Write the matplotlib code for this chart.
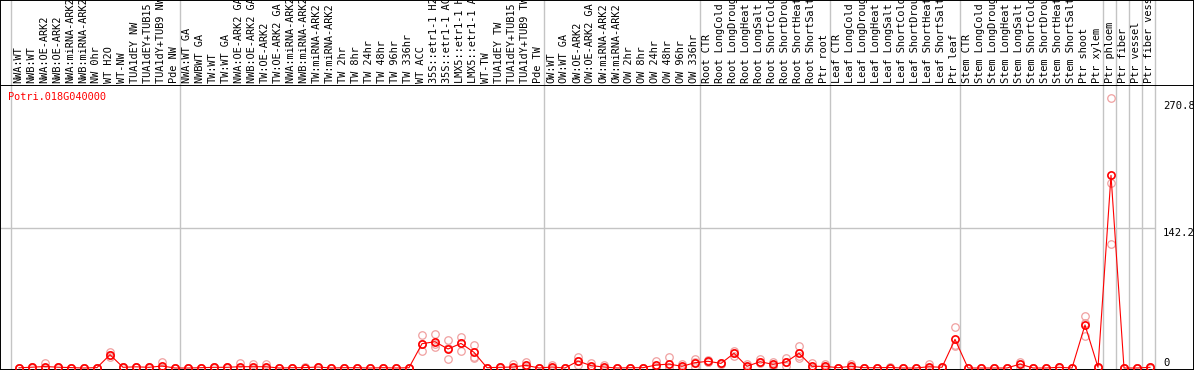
"""Expression profile of Potri.018G040000 across poplar sample sets."""

import matplotlib

matplotlib.use("Agg")
import matplotlib.pyplot as plt
from matplotlib.transforms import blended_transform_factory

GENE = "Potri.018G040000"

SAMPLES = [
    # normal / tension wood set 1
    "NWA:WT", "NWB:WT", "NWA:OE-ARK2", "NWB:OE-ARK2", "NWA:miRNA-ARK2",
    "NWB:miRNA-ARK2", "NW 0hr", "WT H2O", "WT-NW", "TUA1dEY NW",
    "TUA1dEY+TUB15 NW", "TUA1dY+TUB9 NW", "Pde NW",
    # tension wood
    "NWA:WT GA", "NWBWT GA", "TW:WT", "TW:WT GA", "NWA:OE-ARK2 GA",
    "NWB:OE-ARK2 GA", "TW:OE-ARK2", "TW:OE-ARK2 GA", "NWA:miRNA-ARK2 GA",
    "NWB:miRNA-ARK2 GA", "TW:miRNA-ARK2", "TW:miRNA-ARK2", "TW 2hr", "TW 8hr",
    "TW 24hr", "TW 48hr", "TW 96hr", "TW 336hr", "WT ACC", "35S::etr1-1 H2O",
    "35S::etr1-1 ACC", "LMX5::etr1-1 H2O", "LMX5::etr1-1 ACC", "WT-TW",
    "TUA1dEY TW", "TUA1dEY+TUB15 TW", "TUA1dY+TUB9 TW", "Pde TW",
    # opposite wood
    "OW:WT", "OW:WT GA", "OW:OE-ARK2", "OW:OE-ARK2 GA", "OW:miRNA-ARK2",
    "OW:miRNA-ARK2", "OW 2hr", "OW 8hr", "OW 24hr", "OW 48hr", "OW 96hr",
    "OW 336hr",
    # root
    "Root CTR", "Root LongCold", "Root LongDrought", "Root LongHeat",
    "Root LongSalt", "Root ShortCold", "Root ShortDrought", "Root ShortHeat",
    "Root ShortSalt", "Ptr root",
    # leaf
    "Leaf CTR", "Leaf LongCold", "Leaf LongDrought", "Leaf LongHeat",
    "Leaf LongSalt", "Leaf ShortCold", "Leaf ShortDrought", "Leaf ShortHeat",
    "Leaf ShortSalt", "Ptr leaf",
    # stem
    "Stem CTR", "Stem LongCold", "Stem LongDrought", "Stem LongHeat",
    "Stem LongSalt", "Stem ShortCold", "Stem ShortDrought", "Stem ShortHeat",
    "Stem ShortSalt", "Ptr shoot", "Ptr xylem",
    # single tissues
    "Ptr phloem", "Ptr fiber", "Ptr vessel", "Ptr fiber vessel",
]

# index of the first sample of every block (plus the end)
GROUP_STARTS = [0, 13, 41, 53, 63, 73, 84, 85, 86, 87, 88]

MEAN = [
    0.2, 0.8, 1.5, 0.8, 0.4, 0.0, 0.4, 13.5, 0.7, 1.2, 0.7, 2.0, 0.0,
    0.0, 0.3, 0.7, 0.7, 1.3, 1.3, 1.3, 0.0, 0.3, 0.4, 1.0, 0.0, 0.3, 0.3,
    0.0, 0.3, 0.0, 0.3, 24.7, 26.7, 19.3, 25.0, 15.9, 0.3, 0.7, 1.0, 2.7, 0.0,
    1.0, 0.0, 7.1, 2.4, 1.0, 0.0, 0.3, 0.3, 3.0, 4.0, 1.7, 5.4,
    6.8, 4.7, 14.9, 1.7, 6.4, 3.7, 6.1, 14.9, 1.7, 1.7,
    0.3, 1.7, 0.3, 0.3, 0.5, 0.0, 0.0, 1.3, 0.7, 29.1,
    0.0, 0.0, 0.0, 0.0, 4.0, 0.0, 0.0, 0.7, 0.0, 43.7, 0.7,
    195.7, 0.0, 0.0, 0.7,
]

REP_HIGH = [
    0.3, 1.2, 4.7, 1.0, 0.5, 0.0, 0.5, 16.0, 1.0, 1.5, 1.0, 6.0, 0.0,
    0.0, 0.5, 1.0, 1.0, 4.7, 4.0, 4.0, 0.0, 0.5, 0.6, 1.5, 0.0, 0.5, 0.5,
    0.0, 0.5, 0.0, 0.5, 33.5, 34.5, 28.4, 31.8, 23.4, 0.5, 1.0, 4.0, 6.4, 0.0,
    3.0, 0.0, 10.8, 4.6, 3.5, 0.0, 0.5, 0.5, 7.0, 10.8, 4.0, 8.8,
    8.0, 5.5, 17.6, 4.0, 8.8, 6.4, 9.8, 22.3, 5.4, 4.0,
    0.5, 4.0, 0.5, 0.5, 0.8, 0.0, 0.0, 4.0, 1.0, 41.3,
    0.0, 0.0, 0.0, 0.0, 6.4, 0.0, 0.0, 1.0, 0.0, 52.8, 1.5,
    274.0, 0.0, 0.0, 1.5,
]

REP_MID = [
    0.2, 0.8, 0.5, 0.8, 0.4, 0.0, 0.4, 13.0, 0.7, 1.2, 0.7, 0.5, 0.0,
    0.0, 0.3, 0.7, 0.7, 0.5, 0.5, 0.5, 0.0, 0.3, 0.4, 1.0, 0.0, 0.3, 0.3,
    0.0, 0.3, 0.0, 0.3, 24.0, 23.9, 20.7, 25.6, 11.5, 0.3, 0.7, 0.5, 1.5, 0.0,
    0.3, 0.0, 7.5, 1.5, 0.3, 0.0, 0.3, 0.3, 1.5, 1.0, 0.8, 6.0,
    6.5, 4.5, 14.9, 0.8, 6.0, 3.0, 6.0, 12.6, 0.5, 0.8,
    0.3, 0.8, 0.3, 0.3, 0.5, 0.0, 0.0, 0.3, 0.7, 23.4,
    0.0, 0.0, 0.0, 0.0, 4.0, 0.0, 0.0, 0.7, 0.0, 45.5, 0.5,
    187.6, 0.0, 0.0, 0.5,
]

REP_LOW = [
    0.0, 0.4, 0.0, 0.5, 0.2, 0.0, 0.2, 11.0, 0.4, 0.8, 0.4, 0.0, 0.0,
    0.0, 0.1, 0.4, 0.4, 0.0, 0.0, 0.0, 0.0, 0.1, 0.2, 0.5, 0.0, 0.1, 0.1,
    0.0, 0.1, 0.0, 0.1, 17.3, 21.7, 8.8, 17.6, 10.0, 0.1, 0.4, 0.0, 0.5, 0.0,
    0.0, 0.0, 3.0, 1.0, 0.0, 0.0, 0.1, 0.1, 0.5, 0.2, 0.3, 1.5,
    6.0, 4.0, 12.5, 0.3, 4.7, 2.0, 2.5, 9.8, 0.0, 0.5,
    0.1, 0.3, 0.1, 0.1, 0.2, 0.0, 0.0, 0.0, 0.4, 22.6,
    0.0, 0.0, 0.0, 0.0, 1.5, 0.0, 0.0, 0.4, 0.0, 32.5, 0.2,
    125.6, 0.0, 0.0, 0.2,
]

AXIS_MARKS = [270.8, 142.2, 0]
GRID_VALUE = 142.2

W, H = 1194, 370
LABEL_H = 85
COL_W = 13
FIRST_X = 19          # pixel centre of the first sample
ZERO_ROW = 368        # pixel row of value 0
PX_PER_UNIT = 0.9845

GRID_GREY = "#c4c4c4"
REP_PINK = "#f0a0a0"
FONT = "DejaVu Sans Mono"


def px_to_x(px: float) -> float:
    return (px - FIRST_X) / COL_W


def main() -> None:
    fig = plt.figure(figsize=(W / 100, H / 100), dpi=100)
    plot_h = (H - LABEL_H) / H
    ax = fig.add_axes([0, 0, 1, plot_h])
    lab = fig.add_axes([0, plot_h, 1, 1 - plot_h])

    xlim = (px_to_x(0), px_to_x(W))
    ax.set_xlim(*xlim)
    lab.set_xlim(*xlim)
    ax.set_ylim((ZERO_ROW - H) / PX_PER_UNIT, (ZERO_ROW - LABEL_H) / PX_PER_UNIT)
    lab.set_ylim(0, 1)

    for a in (ax, lab):
        a.set_xticks([])
        a.set_yticks([])
        for spine in a.spines.values():
            spine.set_color("black")
            spine.set_linewidth(1.4)
    lab.spines["bottom"].set_visible(False)

    # block separators and the single grid line
    edges = [start - 0.5 - (FIRST_X - 11 - COL_W / 2) / COL_W for start in GROUP_STARTS]
    for edge in edges:
        ax.axvline(edge, color=GRID_GREY, lw=1.0, zorder=1)
        lab.axvline(edge, color=GRID_GREY, lw=1.0, zorder=1)
    ax.hlines(GRID_VALUE, xlim[0], edges[-1], color=GRID_GREY, lw=1.0, zorder=1)

    xs = list(range(len(SAMPLES)))
    for reps in (REP_HIGH, REP_MID, REP_LOW):
        ax.plot(xs, reps, ls="none", marker="o", ms=5.4, mfc="none",
                mec=REP_PINK, mew=0.9, zorder=2, clip_on=True)
    ax.plot(xs, MEAN, color="red", lw=0.8, zorder=3)
    ax.plot(xs, MEAN, ls="none", marker="o", ms=5.2, mfc="none",
            mec="red", mew=1.2, zorder=4)

    # sample names, rotated and clipped at the top edge
    trans = blended_transform_factory(lab.transData, lab.transAxes)
    for x, name in zip(xs, SAMPLES):
        lab.text(x - 0.07, 2 / LABEL_H, name, rotation=90, ha="center",
                 va="bottom", family=FONT, fontsize=7.4, transform=trans,
                 clip_on=True)

    # value labels on the right
    for value in AXIS_MARKS:
        ax.text(px_to_x(1163), value, f"{value:g}", ha="left",
                va="top" if value else "bottom", family=FONT, fontsize=7.6)

    ax.text(px_to_x(8), (ZERO_ROW - 97) / PX_PER_UNIT, GENE, color="red",
            ha="left", va="center", family=FONT, fontsize=7.4)

    fig.savefig("out.png", dpi=100)


if __name__ == "__main__":
    main()
